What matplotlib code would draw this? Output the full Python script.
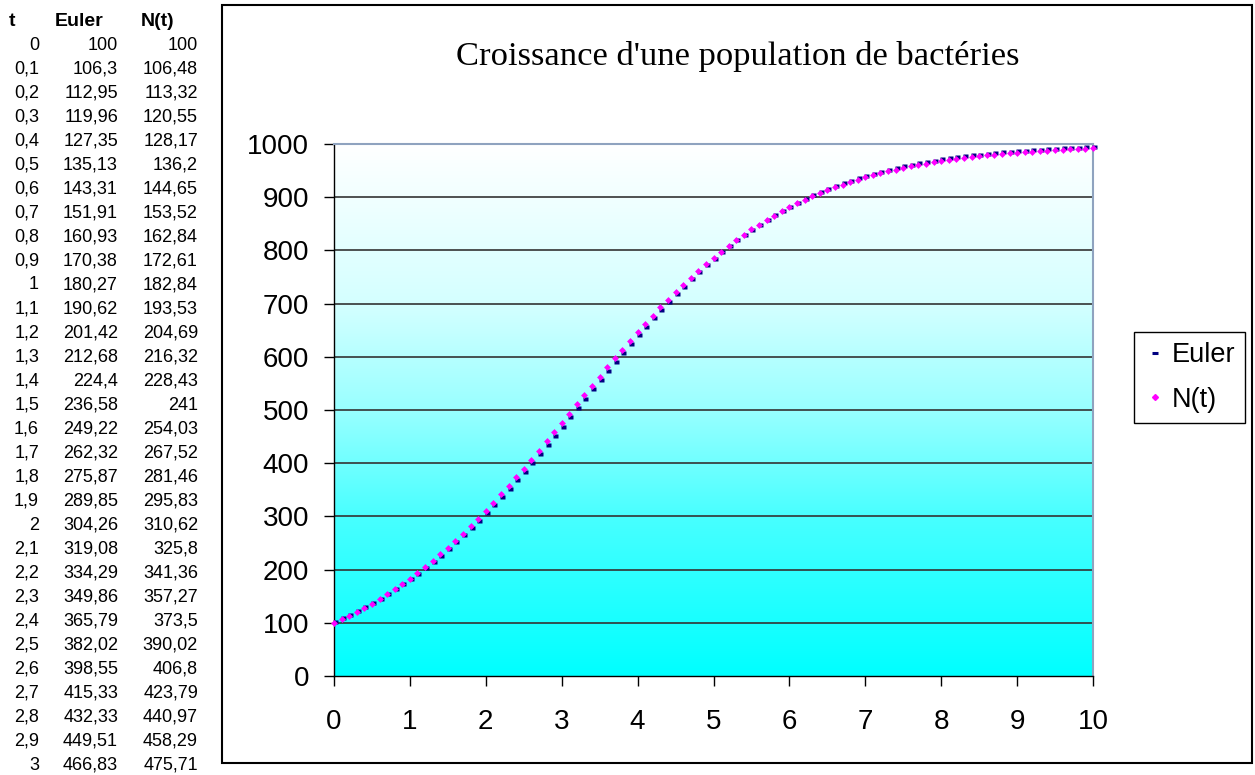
import numpy as np
import matplotlib.pyplot as plt
from matplotlib.colors import LinearSegmentedColormap
from matplotlib.patches import Rectangle
from matplotlib.lines import Line2D

# t from 0 to 10, step 0.1
t = [0.0, 0.1, 0.2, 0.3, 0.4, 0.5, 0.6, 0.7, 0.8, 0.9,
     1.0, 1.1, 1.2, 1.3, 1.4, 1.5, 1.6, 1.7, 1.8, 1.9,
     2.0, 2.1, 2.2, 2.3, 2.4, 2.5, 2.6, 2.7, 2.8, 2.9,
     3.0, 3.1, 3.2, 3.3, 3.4, 3.5, 3.6, 3.7, 3.8, 3.9,
     4.0, 4.1, 4.2, 4.3, 4.4, 4.5, 4.6, 4.7, 4.8, 4.9,
     5.0, 5.1, 5.2, 5.3, 5.4, 5.5, 5.6, 5.7, 5.8, 5.9,
     6.0, 6.1, 6.2, 6.3, 6.4, 6.5, 6.6, 6.7, 6.8, 6.9,
     7.0, 7.1, 7.2, 7.3, 7.4, 7.5, 7.6, 7.7, 7.8, 7.9,
     8.0, 8.1, 8.2, 8.3, 8.4, 8.5, 8.6, 8.7, 8.8, 8.9,
     9.0, 9.1, 9.2, 9.3, 9.4, 9.5, 9.6, 9.7, 9.8, 9.9,
     10.0]

euler = [100, 106.3, 112.95, 119.96, 127.35, 135.13, 143.31, 151.91, 160.93, 170.38,
         180.27, 190.62, 201.42, 212.68, 224.4, 236.58, 249.22, 262.32, 275.87, 289.85,
         304.26, 319.08, 334.29, 349.86, 365.79, 382.02, 398.55, 415.33, 432.33, 449.51,
         466.83, 484.3, 501.7, 519.2, 536.7, 554.1, 571.4, 588.6, 605.5, 622.2,
         638.7, 654.8, 670.6, 686.1, 701.2, 715.9, 730.1, 743.9, 757.2, 770.1,
         782.5, 794.4, 805.8, 816.8, 827.3, 837.3, 846.8, 855.9, 864.5, 872.7,
         880.5, 887.9, 894.8, 901.4, 907.6, 913.5, 919.0, 924.3, 929.2, 933.8,
         938.1, 942.2, 946.0, 949.6, 952.9, 956.0, 959.0, 961.7, 964.3, 966.7,
         969.0, 971.1, 973.0, 974.9, 976.6, 978.2, 979.7, 981.1, 982.4, 983.6,
         984.7, 985.8, 986.7, 987.7, 988.5, 989.3, 990.1, 990.7, 991.4, 992.0,
         992.5]

n_t = [100, 106.48, 113.32, 120.55, 128.17, 136.2, 144.65, 153.52, 162.84, 172.61,
       182.84, 193.53, 204.69, 216.32, 228.43, 241, 254.03, 267.52, 281.46, 295.83,
       310.62, 325.8, 341.36, 357.27, 373.5, 390.02, 406.8, 423.79, 440.97, 458.29,
       475.71, 493.2, 510.7, 528.2, 545.6, 562.9, 580.0, 596.9, 613.7, 630.1,
       646.3, 662.1, 677.6, 692.7, 707.4, 721.7, 735.5, 748.9, 761.8, 774.3,
       786.3, 797.8, 808.9, 819.5, 829.6, 839.3, 848.5, 857.3, 865.6, 873.6,
       881.1, 888.2, 895.0, 901.4, 907.4, 913.1, 918.5, 923.6, 928.4, 932.9,
       937.2, 941.2, 944.9, 948.5, 951.8, 954.9, 957.8, 960.6, 963.1, 965.5,
       967.8, 969.9, 971.9, 973.7, 975.5, 977.1, 978.6, 980.0, 981.4, 982.6,
       983.7, 984.8, 985.8, 986.8, 987.7, 988.5, 989.2, 990.0, 990.7, 991.3,
       991.9]

# rows shown in the spreadsheet table on the left (t = 0 .. 3)
table_rows = 31

W, H = 1255, 775
fig = plt.figure(figsize=(W / 100, H / 100), dpi=100)
plt.rcParams['font.family'] = ['Liberation Sans', 'DejaVu Sans']


def fx(px):
    return px / W


def fy(py):
    return 1 - py / H


def fmt(v):
    s = ('%.2f' % v).rstrip('0').rstrip('.')
    return s.replace('.', ',')


# spreadsheet table
fig.text(fx(12), fy(21), 't', ha='center', va='center', fontsize=14, fontweight='bold')
fig.text(fx(79), fy(21), 'Euler', ha='center', va='center', fontsize=14, fontweight='bold')
fig.text(fx(158), fy(21), 'N(t)', ha='center', va='center', fontsize=14, fontweight='bold')
for i in range(table_rows):
    y = fy(45 + 24 * i)
    fig.text(fx(39), y, fmt(t[i]), ha='right', va='center', fontsize=13)
    fig.text(fx(118), y, fmt(euler[i]), ha='right', va='center', fontsize=13)
    fig.text(fx(198), y, fmt(n_t[i]), ha='right', va='center', fontsize=13)

# chart frame
fig.patches.append(Rectangle((fx(222), fy(763)), fx(1252) - fx(222), fy(5) - fy(763),
                             transform=fig.transFigure, fill=False, ec='black', lw=1.5))

fig.text(fx(738), fy(57), "Croissance d'une population de bactéries", ha='center', va='center',
         fontsize=24.8, family='Liberation Serif')

ax = fig.add_axes([fx(334), fy(676), fx(1093) - fx(334), fy(144) - fy(676)])

cmap = LinearSegmentedColormap.from_list(
    'bg', [(0, '#00FFFF'), (0.3, '#48FFFF'), (0.5, '#98FFFF'), (0.7, '#D4FFFF'), (1, '#FFFFFF')])
grad = np.linspace(0, 1, 256).reshape(-1, 1)
ax.imshow(grad, extent=[0, 10, 0, 1000], origin='lower', aspect='auto', cmap=cmap, zorder=0)

for yv in range(100, 1000, 100):
    ax.axhline(yv, color='#333333', lw=1.2, zorder=1)

# Euler marker: small navy block peeking out to the upper right of the diamond
euler_mark = [(-0.2, -0.3), (1, -0.3), (1, 0.7), (-0.2, 0.7), (-0.2, -0.3)]
ax.plot(t, euler, ls='none', marker=euler_mark, ms=5.8, color='#000080', mec='none',
        clip_on=False, zorder=3, label='Euler')
ax.plot(t, n_t, ls='none', marker='D', ms=3.5, color='#FF00FF', mec='none',
        clip_on=False, zorder=4, label='N(t)')

ax.set_xlim(0, 10)
ax.set_ylim(0, 1000)
ax.set_xticks(range(0, 11))
ax.set_yticks(range(0, 1001, 100))
ax.tick_params(axis='both', labelsize=20, direction='out', length=7, width=1, color='black')
ax.tick_params(axis='x', pad=17)
ax.tick_params(axis='y', pad=11)

for side in ['top', 'right']:
    ax.spines[side].set_color('#8FA3BF')
    ax.spines[side].set_linewidth(1.5)
for side in ['left', 'bottom']:
    ax.spines[side].set_color('black')
    ax.spines[side].set_linewidth(1)

handles = [Line2D([], [], ls='none', marker='_', ms=4, mew=2.2, color='#000080'),
           Line2D([], [], ls='none', marker='D', ms=3, color='#FF00FF')]
leg = fig.legend(handles, ['Euler', 'N(t)'], loc='upper left',
                 bbox_to_anchor=(fx(1134), fy(332)), fontsize=19.5, frameon=True,
                 fancybox=False, edgecolor='black', framealpha=1, borderpad=0.38,
                 handlelength=0.8, handletextpad=0.2, labelspacing=0.68, borderaxespad=0)
leg.get_frame().set_linewidth(1)

fig.savefig('out.png', dpi=100)
